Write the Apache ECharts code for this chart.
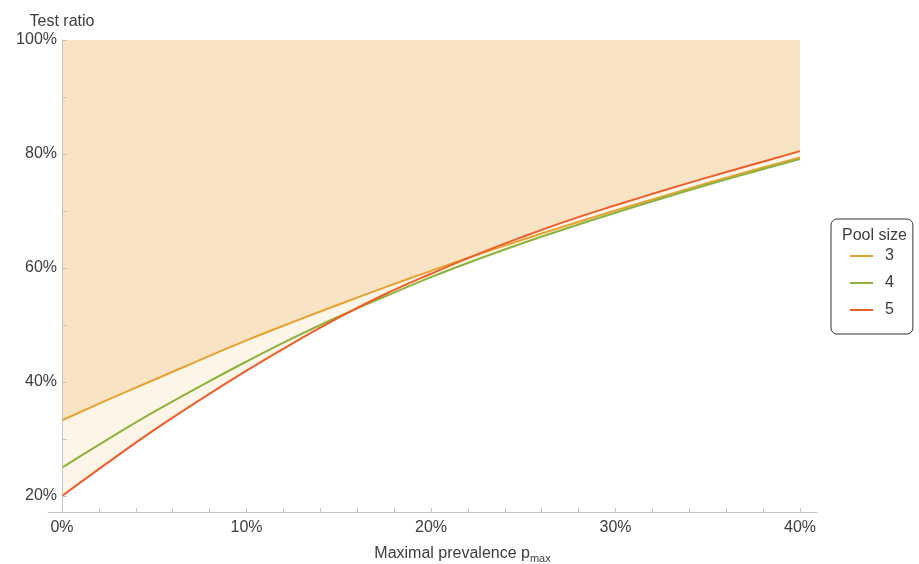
<!DOCTYPE html>
<html>
<head>
<meta charset="utf-8">
<script src="https://cdn.jsdelivr.net/npm/echarts@6/dist/echarts.min.js"></script>
<style>html,body{margin:0;padding:0;background:#fff}#c{width:919px;height:564px}</style>
</head>
<body>
<div id="c"></div>
<script>
// prevalence (%)
const prevalence = [0, 2.5, 5, 7.5, 10, 12.5, 15, 17.5, 20, 22.5, 25, 27.5, 30, 32.5, 35, 37.5, 40];
// test ratio (%) per pool size
const pool3 = [33.3, 36.9, 40.4, 43.9, 47.3, 50.5, 53.6, 56.6, 59.5, 62.3, 65.0, 67.6, 70.1, 72.5, 74.9, 77.2, 79.4];
const pool4 = [25.0, 30.0, 34.8, 39.3, 43.6, 47.7, 51.5, 55.0, 58.4, 61.5, 64.4, 67.1, 69.7, 72.2, 74.6, 76.9, 79.1];
const pool5 = [20.0, 25.9, 31.6, 36.9, 42.0, 46.8, 51.3, 55.4, 59.0, 62.4, 65.5, 68.4, 71.0, 73.5, 75.9, 78.2, 80.5];
const seriesNames = ['3', '4', '5'];
const xTickValues = [0,2,4,6,8,10,12,14,16,18,20,22,24,26,28,30,32,34,36,38,40];
const xLabelValues = [0, 10, 20, 30, 40];
const yTickValues = [20, 30, 40, 50, 60, 70, 80, 90, 100];
const yLabelValues = [20, 40, 60, 80, 100];

const pools = [pool3, pool4, pool5];
const maxEnv = prevalence.map((_, i) => Math.max(...pools.map(p => p[i])));
const minEnv = prevalence.map((_, i) => Math.min(...pools.map(p => p[i])));
const pair = arr => prevalence.map((x, i) => [x, arr[i]]);

const colors = ['#e5a232', '#8cb23c', '#ee5d2a'];
const txt = '#3c3c3c';
const axisCol = '#c4c4c4';
const font = 'Liberation Sans, Arial, sans-serif';

const chart = echarts.init(document.getElementById('c'), null, {renderer: 'canvas'});
chart.setOption({
  animation: false,
  textStyle: {fontFamily: font},
  grid: {left: 48, right: 102, top: 40, bottom: 52, containLabel: false, outerBoundsMode: 'none'},
  xAxis: {
    type: 'value', min: -0.76, max: 40.92, z: 10,
    axisLine: {onZero: false, lineStyle: {color: axisCol, width: 1}},
    axisTick: {show: true, inside: true, length: 4, customValues: xTickValues, lineStyle: {color: axisCol}},
    axisLabel: {customValues: xLabelValues, formatter: v => v + '%', color: txt, fontSize: 16, margin: 8, fontFamily: font},
    splitLine: {show: false},
    name: '{a|Maximal prevalence p}{b|max}',
    nameLocation: 'middle', nameGap: 32,
    nameTextStyle: {
      padding: [0, 0, 0, 60],
      rich: {
        a: {fontSize: 16, color: txt, fontFamily: font, lineHeight: 20},
        b: {fontSize: 11, color: txt, fontFamily: font, lineHeight: 20, padding: [9, 0, 0, 0]}
      }
    }
  },
  yAxis: {
    type: 'value', min: 17.2, max: 100, z: 10,
    axisLine: {show: true, onZero: true, lineStyle: {color: axisCol, width: 1}},
    axisTick: {show: true, inside: true, length: 5, customValues: yTickValues, lineStyle: {color: axisCol}},
    axisLabel: {customValues: yLabelValues, formatter: v => v + '%', color: txt, fontSize: 16, margin: -9, fontFamily: font},
    splitLine: {show: false},
    name: 'Test ratio', nameLocation: 'end', nameGap: 10,
    nameTextStyle: {color: txt, fontSize: 16, fontFamily: font}
  },
  legend: {
    data: seriesNames.map(n => ({name: n, icon: 'rect'})),
    orient: 'vertical', left: 831, top: 219,
    padding: [29, 19, 16, 19],
    itemWidth: 23, itemHeight: 2, itemGap: 11,
    borderColor: '#333', borderWidth: 1, borderRadius: 6,
    textStyle: {color: txt, fontSize: 16, fontFamily: font, padding: [0, 0, 0, 7]}
  },
  graphic: [{
    type: 'text', left: 842, top: 228,
    style: {text: 'Pool size', fill: txt, font: '16px ' + font}
  }],
  series: [
    {name: 'band', type: 'line', data: pair(maxEnv), smooth: 0.4, symbol: 'none',
     lineStyle: {width: 0, opacity: 0}, areaStyle: {color: '#fdf6e8', opacity: 1, origin: 'start'}, silent: true, z: 1},
    {name: 'below', type: 'line', data: pair(minEnv), smooth: 0.4, symbol: 'none',
     lineStyle: {width: 0, opacity: 0}, areaStyle: {color: '#ffffff', opacity: 1, origin: 'start'}, silent: true, z: 1},
    {name: 'above', type: 'line', data: pair(maxEnv), smooth: 0.4, symbol: 'none',
     lineStyle: {width: 0, opacity: 0}, areaStyle: {color: '#f8e4c4', opacity: 1, origin: 'end'}, silent: true, z: 1},
    ...seriesNames.map((n, k) => ({
      name: n, type: 'line', data: pair(pools[k]), smooth: 0.4, symbol: 'none',
      lineStyle: {color: colors[k], width: 2}, itemStyle: {color: colors[k]}, z: 3 + k
    }))
  ]
});
</script>
</body>
</html>
